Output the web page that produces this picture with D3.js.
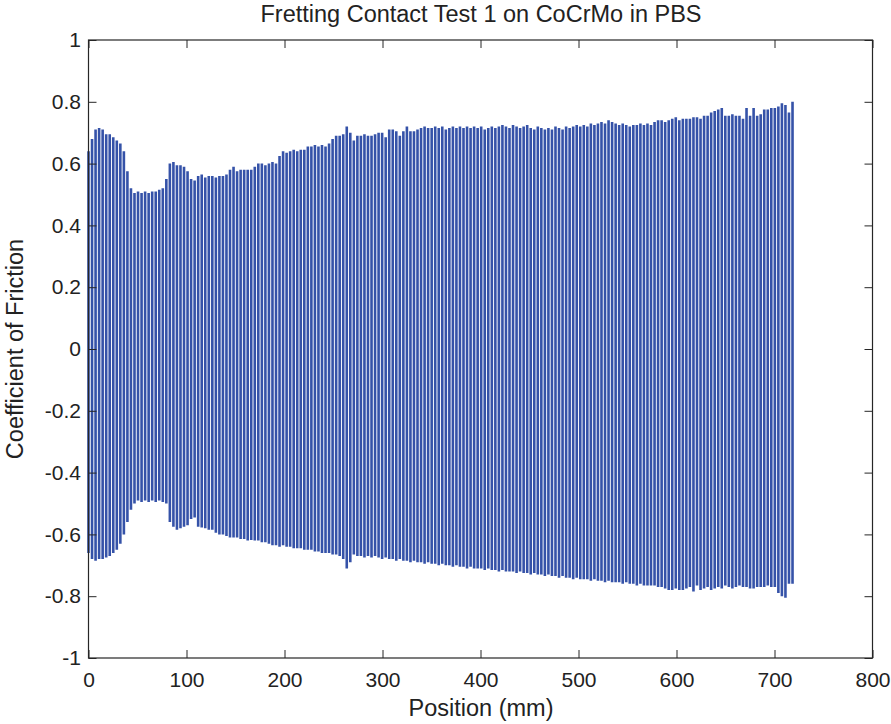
<!DOCTYPE html>
<html>
<head>
<meta charset="utf-8">
<script src="https://cdn.jsdelivr.net/npm/d3@7"></script>
<style>
  body { margin: 0; background: #fff; }
  svg { display: block; }
  .tick text { font-family: "Liberation Sans", Arial, sans-serif; font-size: 21px; fill: #222; }
  .tick line { stroke: #262626; }
  .lbl { font-family: "Liberation Sans", Arial, sans-serif; fill: #222; }
</style>
</head>
<body>
<svg id="chart" width="891" height="724"></svg>
<script>
// one vertical stroke per half cycle
let cycleStep = 3.61   // mm between strokes
let xTicks = [0, 100, 200, 300, 400, 500, 600, 700, 800]
let yTicks = [-1, -0.8, -0.6, -0.4, -0.2, 0, 0.2, 0.4, 0.6, 0.8, 1]

let peakHigh = [
  0.64, 0.68, 0.71, 0.715, 0.71, 0.695, 0.695, 0.685, 0.675, 0.665,
  0.64, 0.575, 0.52, 0.505, 0.51, 0.505, 0.51, 0.505, 0.51, 0.51,
  0.515, 0.52, 0.55, 0.6, 0.605, 0.595, 0.595, 0.59, 0.575, 0.55,
  0.545, 0.56, 0.565, 0.555, 0.56, 0.56, 0.555, 0.56, 0.56, 0.565,
  0.58, 0.59, 0.575, 0.58, 0.58, 0.58, 0.58, 0.59, 0.6, 0.6,
  0.595, 0.6, 0.605, 0.6, 0.625, 0.64, 0.635, 0.64, 0.645, 0.64,
  0.645, 0.645, 0.655, 0.655, 0.66, 0.655, 0.66, 0.655, 0.665, 0.68,
  0.69, 0.69, 0.695, 0.72, 0.7, 0.675, 0.69, 0.69, 0.695, 0.69,
  0.69, 0.695, 0.7, 0.7, 0.685, 0.71, 0.71, 0.705, 0.69, 0.705,
  0.72, 0.705, 0.705, 0.71, 0.715, 0.72, 0.715, 0.715, 0.72, 0.715,
  0.72, 0.71, 0.715, 0.72, 0.715, 0.72, 0.715, 0.72, 0.715, 0.72,
  0.715, 0.72, 0.71, 0.715, 0.72, 0.715, 0.72, 0.725, 0.72, 0.715,
  0.725, 0.72, 0.715, 0.72, 0.725, 0.715, 0.71, 0.72, 0.715, 0.71,
  0.715, 0.71, 0.72, 0.715, 0.71, 0.72, 0.715, 0.72, 0.725, 0.72,
  0.725, 0.72, 0.73, 0.725, 0.73, 0.735, 0.73, 0.74, 0.735, 0.73,
  0.725, 0.73, 0.725, 0.72, 0.725, 0.725, 0.73, 0.725, 0.73, 0.725,
  0.735, 0.74, 0.74, 0.735, 0.74, 0.745, 0.75, 0.74, 0.745, 0.745,
  0.745, 0.75, 0.75, 0.745, 0.755, 0.755, 0.765, 0.77, 0.775, 0.78,
  0.755, 0.755, 0.76, 0.755, 0.755, 0.745, 0.78, 0.755, 0.78, 0.755,
  0.76, 0.775, 0.775, 0.78, 0.78, 0.785, 0.795, 0.79, 0.765, 0.8
]

let peakLow = [
  -0.66, -0.68, -0.685, -0.68, -0.68, -0.675, -0.67, -0.66, -0.65, -0.63,
  -0.6, -0.56, -0.52, -0.5, -0.49, -0.495, -0.49, -0.495, -0.49, -0.495,
  -0.49, -0.495, -0.5, -0.56, -0.575, -0.585, -0.58, -0.575, -0.57, -0.55,
  -0.545, -0.575, -0.578, -0.58, -0.585, -0.585, -0.595, -0.6, -0.6, -0.605,
  -0.61, -0.61, -0.61, -0.615, -0.615, -0.62, -0.618, -0.62, -0.62, -0.625,
  -0.625, -0.63, -0.635, -0.635, -0.64, -0.635, -0.64, -0.64, -0.645, -0.645,
  -0.645, -0.65, -0.65, -0.65, -0.655, -0.655, -0.66, -0.66, -0.66, -0.665,
  -0.665, -0.67, -0.68, -0.71, -0.69, -0.665, -0.67, -0.67, -0.675, -0.67,
  -0.675, -0.67, -0.675, -0.68, -0.675, -0.68, -0.68, -0.685, -0.68, -0.685,
  -0.685, -0.69, -0.685, -0.69, -0.69, -0.695, -0.69, -0.695, -0.695, -0.7,
  -0.695, -0.7, -0.7, -0.705, -0.7, -0.705, -0.705, -0.71, -0.705, -0.71,
  -0.71, -0.71, -0.715, -0.71, -0.715, -0.715, -0.72, -0.715, -0.72, -0.72,
  -0.72, -0.725, -0.72, -0.725, -0.725, -0.73, -0.725, -0.73, -0.73, -0.735,
  -0.73, -0.735, -0.735, -0.74, -0.735, -0.74, -0.74, -0.745, -0.74, -0.745,
  -0.745, -0.745, -0.75, -0.745, -0.75, -0.75, -0.755, -0.75, -0.755, -0.755,
  -0.755, -0.76, -0.755, -0.76, -0.76, -0.765, -0.76, -0.765, -0.765, -0.765,
  -0.765, -0.77, -0.77, -0.775, -0.78, -0.78, -0.775, -0.78, -0.78, -0.775,
  -0.77, -0.785, -0.765, -0.78, -0.775, -0.77, -0.78, -0.775, -0.77, -0.775,
  -0.765, -0.77, -0.775, -0.77, -0.765, -0.77, -0.77, -0.775, -0.775, -0.77,
  -0.77, -0.77, -0.765, -0.77, -0.77, -0.79, -0.8, -0.805, -0.76, -0.76
]

let svg = d3.select("#chart")

let plot = { left: 88.5, right: 872.5, top: 40, bottom: 658 }

let x = d3.scaleLinear().domain([0, 800]).range([plot.left, plot.right])
let y = d3.scaleLinear().domain([-1, 1]).range([plot.bottom, plot.top])

let yFmt = d => String(+d.toFixed(1))

// data strokes
svg.append("g")
  .selectAll("line")
  .data(peakHigh)
  .join("line")
  .attr("x1", (d, i) => x(i * cycleStep))
  .attr("x2", (d, i) => x(i * cycleStep))
  .attr("y1", (d, i) => y(peakLow[i]))
  .attr("y2", d => y(d))
  .attr("stroke", "#3552a8")
  .attr("stroke-width", 2.6)

// axes, ticks pointing inward like matlab
svg.append("g")
  .attr("transform", `translate(0,${plot.bottom})`)
  .call(d3.axisBottom(x).tickValues(xTicks).tickSize(-8).tickPadding(14))
  .call(g => g.select(".domain").remove())

svg.append("g")
  .attr("transform", `translate(0,${plot.top})`)
  .call(d3.axisTop(x).tickValues(xTicks).tickSize(-8).tickFormat(""))
  .call(g => g.select(".domain").remove())

svg.append("g")
  .attr("transform", `translate(${plot.left},0)`)
  .call(d3.axisLeft(y).tickValues(yTicks).tickSize(-8).tickPadding(7.5).tickFormat(yFmt))
  .call(g => g.select(".domain").remove())

svg.append("g")
  .attr("transform", `translate(${plot.right},0)`)
  .call(d3.axisRight(y).tickValues(yTicks).tickSize(-8).tickFormat(""))
  .call(g => g.select(".domain").remove())

svg.append("rect")
  .attr("x", plot.left).attr("y", plot.top)
  .attr("width", plot.right - plot.left).attr("height", plot.bottom - plot.top)
  .attr("fill", "none").attr("stroke", "#262626").attr("stroke-width", 1.2)

// labels
svg.append("text").attr("class", "lbl")
  .attr("x", 481).attr("y", 22)
  .attr("text-anchor", "middle").style("font-size", "23.5px")
  .text("Fretting Contact Test 1 on CoCrMo in PBS")

svg.append("text").attr("class", "lbl")
  .attr("x", 481).attr("y", 716)
  .attr("text-anchor", "middle").style("font-size", "23.5px")
  .text("Position (mm)")

svg.append("text").attr("class", "lbl")
  .attr("transform", `translate(23,${(plot.top + plot.bottom) / 2}) rotate(-90)`)
  .attr("text-anchor", "middle").style("font-size", "23.5px")
  .text("Coefficient of Friction")
</script>
</body>
</html>
